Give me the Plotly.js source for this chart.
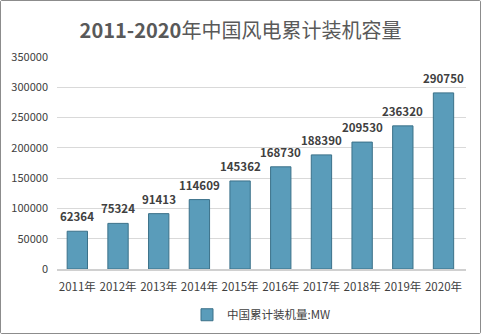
<!DOCTYPE html>
<html><head><meta charset="utf-8">
<script src="https://cdn.plot.ly/plotly-3.0.1.min.js"></script>
<style>
html,body{margin:0;padding:0;background:#fff;}
#wrap{width:479px;height:332px;border:1px solid #8c8c8c;border-radius:2px;}
#chart{width:479px;height:332px;}
</style></head>
<body><div id="wrap"><div id="chart"></div></div>
<script>
const categories = ["2011年","2012年","2013年","2014年","2015年","2016年","2017年","2018年","2019年","2020年"];
const capacity = [62364,75324,91413,114609,145362,168730,188390,209530,236320,290750];
const seriesName = "中国累计装机量:MW";
const yTicks = [0,50000,100000,150000,200000,250000,300000,350000];

const font = '"Noto Sans CJK SC", "Noto Sans", sans-serif';
const trace = {
  type: 'bar',
  x: categories,
  y: capacity,
  name: seriesName,
  marker: {color: '#5a9cba', line: {color: '#3b7189', width: 1}},
  showlegend: true,
  hoverinfo: 'none'
};
const labels = categories.map((c, i) => ({
  x: c, y: capacity[i], xref: 'x', yref: 'y',
  text: '<b>' + capacity[i] + '</b>', showarrow: false,
  yanchor: 'bottom', yshift: 5,
  font: {family: font, size: 11.5, color: '#404040'}
}));
const layout = {
  width: 479, height: 332,
  margin: {l: 56, r: 14, t: 56, b: 64, autoexpand: false},
  paper_bgcolor: '#fff', plot_bgcolor: '#fff',
  font: {family: font, color: '#595959', size: 11},
  title: {text: '<b>2011-2020</b>年中国风电累计装机容量', x: 0.5, xanchor: 'center', y: 0.91, yanchor: 'middle',
          font: {family: font, size: 20, color: '#595959'}},
  bargap: 0.5,
  annotations: labels,
  xaxis: {type: 'category', showgrid: false, showline: true, linecolor: '#d0d0d0', linewidth: 1.5,
          ticks: '', ticklabelstandoff: 7, tickfont: {size: 11.5, color: '#404040'}, fixedrange: true, automargin: false},
  yaxis: {range: [0, 350000], tickvals: yTicks, ticktext: yTicks.map(String), showgrid: true, gridcolor: '#d9d9d9',
          zeroline: false, showline: false, ticks: '', ticklabelstandoff: 8, tickfont: {size: 11, color: '#404040'}, automargin: false},
  showlegend: true,
  legend: {orientation: 'h', x: 0.5, xanchor: 'center', yref: 'container', y: 0.055, yanchor: 'middle',
           font: {size: 11.5, color: '#404040'}}
};
Plotly.newPlot('chart', [trace], layout, {displayModeBar: false, staticPlot: true});
</script></body></html>
